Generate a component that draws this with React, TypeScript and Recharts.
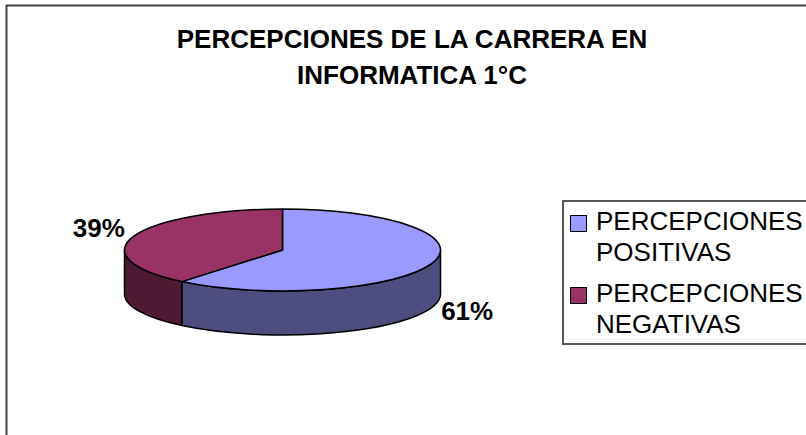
import { PieChart, Pie, Legend } from "recharts";

const categories = ["PERCEPCIONES POSITIVAS", "PERCEPCIONES NEGATIVAS"];
const values = [61, 39];
const topColors = ["#9999FF", "#993366"];
const wallColors = ["#4D4D80", "#4D1A33"];
const titleLines = ["PERCEPCIONES DE LA CARRERA EN", "INFORMATICA 1°C"];

const tableData = categories.map((name, i) => ({
  name,
  value: values[i],
  fill: topColors[i],
  wall: wallColors[i],
}));

const SQUASH = 41 / 158;
const DEPTH = 44;
const RAD = Math.PI / 180;

// recharts hands us a flat circular sector, we tilt it here
const TiltedSector = (props: any) => {
  const { cx, cy, outerRadius: r, startAngle, endAngle, fill, payload } = props;
  const px = (a: number) => cx + r * Math.cos(a * RAD);
  const py = (a: number) => cy - r * SQUASH * Math.sin(a * RAD);
  const ry = r * SQUASH;
  const large = Math.abs(endAngle - startAngle) > 180 ? 1 : 0;
  const top = `M${cx},${cy} L${px(startAngle)},${py(startAngle)} A${r},${ry} 0 ${large} 1 ${px(endAngle)},${py(endAngle)} Z`;

  // the visible wall is the lower half of the ellipse only (0 to -180 degrees)
  const wallStart = Math.min(startAngle, 0);
  const wallEnd = Math.max(endAngle, -180);
  let wall = "";
  if (wallStart > wallEnd) {
    wall =
      `M${px(wallStart)},${py(wallStart)} A${r},${ry} 0 0 1 ${px(wallEnd)},${py(wallEnd)} ` +
      `L${px(wallEnd)},${py(wallEnd) + DEPTH} A${r},${ry} 0 0 0 ${px(wallStart)},${py(wallStart) + DEPTH} Z`;
  }
  return (
    <g>
      {wall && <path d={wall} fill={payload.wall ?? props.wall} stroke="#000" strokeWidth={1.5} strokeLinejoin="round" />}
      <path d={top} fill={fill} stroke="#000" strokeWidth={1.5} strokeLinejoin="round" />
    </g>
  );
};

const renderLabel = (props: any) => {
  const { cx, cy, outerRadius: r, midAngle, percent } = props;
  const c = Math.cos(midAngle * RAD);
  const s = Math.sin(midAngle * RAD);
  const x = cx + r * c + (c > 0 ? 36 : -35);
  const y = cy - r * SQUASH * s + (s < 0 ? 47 : -8);
  return (
    <text x={x} y={y} textAnchor="middle" dominantBaseline="central" fontSize={26} fontWeight="bold" fill="#000" fontFamily="Liberation Sans">
      {`${Math.round(percent * 100)}%`}
    </text>
  );
};

const LegendBox = ({ payload }: any) => (
  <div style={{ border: "2px solid #555", boxSizing: "border-box", width: 260, height: 145, paddingTop: 9, background: "#fff" }}>
    {(payload ?? []).map((entry: any, i: number) => (
      <div key={i} style={{ display: "flex", height: 62, marginBottom: 10 }}>
        <div style={{ width: 15, height: 15, marginLeft: 6, marginTop: 4, border: "1.5px solid #000", background: entry.payload?.fill ?? entry.color, flexShrink: 0 }} />
        <div style={{ marginLeft: 9, width: 210, fontSize: 26, lineHeight: "31px", color: "#000", marginTop: -5 }}>
          {entry.value}
        </div>
      </div>
    ))}
  </div>
);

export default function App() {
  return (
    <div style={{ position: "fixed", left: 0, top: 0, width: 806, height: 435, overflow: "hidden", background: "#fff", fontFamily: "Liberation Sans" }}>
      <PieChart width={806} height={435} margin={{ top: 0, right: 0, bottom: 0, left: 0 }}>
        <rect x={6.5} y={5.5} width={820} height={450} fill="none" stroke="#444" strokeWidth={2} />
        {titleLines.map((line, i) => (
          <text key={i} x={412} y={48 + i * 36} textAnchor="middle" fontSize={26} fontWeight="bold" fill="#000">
            {line}
          </text>
        ))}
        <Pie
          data={tableData}
          dataKey="value"
          nameKey="name"
          cx={282.5}
          cy={250}
          outerRadius={158}
          startAngle={90}
          endAngle={-270}
          stroke="#000"
          shape={TiltedSector}
          label={renderLabel}
          labelLine={false}
          isAnimationActive={false}
        />
        <Legend
          layout="vertical"
          align="right"
          verticalAlign="middle"
          itemSorter={null}
          content={<LegendBox />}
          wrapperStyle={{ position: "absolute", left: 562, top: 200, width: 260, height: 145 }}
        />
      </PieChart>
    </div>
  );
}
